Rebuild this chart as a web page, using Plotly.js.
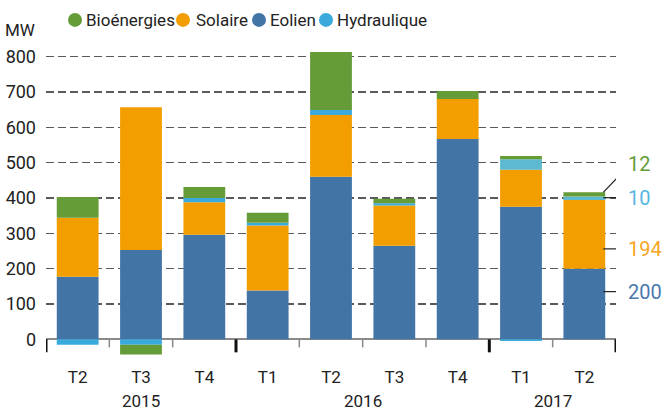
<!DOCTYPE html>
<html>
<head>
<meta charset="utf-8">
<script src="https://cdn.plot.ly/plotly-3.0.1.min.js"></script>
<style>html,body{margin:0;padding:0;background:#fff;}#chart{width:665px;height:412px;}</style>
</head>
<body>
<div id="chart"></div>
<script>
// ---- data ----
const quarters = ['T2','T3','T4','T1','T2','T3','T4','T1','T2'];
const years = ['2015','2015','2015','2016','2016','2016','2016','2017','2017'];
const eolien = [177, 253, 296, 138, 460, 265, 567, 375, 200];
const solaire = [167, 404, 92, 184, 175, 114, 113, 105, 194];
const hydraulique = [0, 0, 12, 8, 14, 6, 0, 30, 10];
const hydrauliqueNeg = [-15, -15, 0, 0, 0, 0, 0, -5, 0];
const bioenergies = [59, -28, 31, 28, 164, 13, 23, 9, 12];
const yTicks = [0, 100, 200, 300, 400, 500, 600, 700, 800];
const seriesNames = ['Bioénergies', 'Solaire', 'Eolien', 'Hydraulique'];

// ---- style ----
const FONT = 'Roboto, sans-serif';
const C = {bio: '#669c38', sol: '#f39e00', eol: '#4274a6', hyd: '#3aa9dc', hyd17: '#5cb9cf', text: '#222'};
const n = quarters.length;
const idx = quarters.map((_, i) => i);
const BARW = 0.66;
const last = n - 1;
const hydColors = years.map(y => y === '2017' ? C.hyd17 : C.hyd);

function bar(name, y, color) {
  return {type: 'bar', x: idx, y: y, name: name, width: BARW, showlegend: false,
          marker: {color: color, line: {width: 0}}, hoverinfo: 'skip'};
}
const data = [
  bar('Eolien', eolien, C.eol),
  bar('Solaire', solaire, C.sol),
  bar('Hydraulique', hydraulique, hydColors),
  bar('Hydraulique', hydrauliqueNeg, C.hyd),
  bar('Bioénergies', bioenergies, C.bio)
];

const shapes = [];
const annotations = [];
// axis ticks at category boundaries (longer at year changes)
for (let i = 0; i <= n; i++) {
  const major = (i === 0 || i === n || years[i] !== years[i - 1]);
  shapes.push({type: 'line', xref: 'x', yref: 'y', ysizemode: 'pixel', yanchor: 0,
    x0: i - 0.5, x1: i - 0.5, y0: 0, y1: major ? -13 : -8,
    line: {color: major ? '#111' : '#888', width: major ? 3 : 1.5}});
}
// year labels centered under their groups
const yearList = [...new Set(years)];
yearList.forEach(y => {
  const ids = idx.filter(i => years[i] === y);
  const mid = (ids[0] + ids[ids.length - 1]) / 2;
  annotations.push({xref: 'x', yref: 'paper', x: mid, y: -0.139, text: y, showarrow: false,
    xanchor: 'center', yanchor: 'middle', font: {family: FONT, size: 17, color: C.text}});
});
// MW unit
annotations.push({xref: 'paper', yref: 'paper', x: -0.076, y: 1.028, text: 'MW', showarrow: false,
  xanchor: 'left', yanchor: 'middle', font: {family: FONT, size: 17, color: C.text}});

// custom legend (circles + text)
const legendColors = [C.bio, C.sol, C.eol, C.hyd];
const legendCirclePx = [75, 183, 259, 326];
const legendTextPx = [86, 196, 270, 337];
const px2paper = px => (px - 46) / 570;
seriesNames.forEach((nm, k) => {
  shapes.push({type: 'circle', xref: 'paper', yref: 'paper', xsizemode: 'pixel', ysizemode: 'pixel',
    xanchor: px2paper(legendCirclePx[k]), yanchor: 1.06, x0: -7, x1: 7, y0: -7, y1: 7,
    fillcolor: legendColors[k], line: {width: 0}});
  annotations.push({xref: 'paper', yref: 'paper', x: px2paper(legendTextPx[k]), y: 1.06, text: nm,
    showarrow: false, xanchor: 'left', yanchor: 'middle', xshift: -2,
    font: {family: FONT, size: 17, color: C.text}});
});

// end-of-series value labels for the last bar
const barRight = last + BARW / 2;
const lastLabels = [
  {v: bioenergies[last], color: C.bio, y: 497, lineFrom: eolien[last] + solaire[last] + hydraulique[last] + bioenergies[last], diag: true},
  {v: hydraulique[last], color: '#56b6e0', y: 401},
  {v: solaire[last], color: '#f5a623', y: 256},
  {v: eolien[last], color: '#4a78ad', y: 135}
];
lastLabels.forEach(L => {
  if (L.diag) {
    shapes.push({type: 'line', xref: 'x', yref: 'y', xsizemode: 'pixel', ysizemode: 'pixel',
      xanchor: barRight, yanchor: L.lineFrom, x0: -2, x1: 23, y0: 0, y1: 26, line: {color: '#222', width: 1.2}});
  } else {
    shapes.push({type: 'line', xref: 'x', yref: 'y', xsizemode: 'pixel', x0: -2, x1: 21,
      y0: L.y, y1: L.y, xanchor: barRight, line: {color: '#222', width: 1.2}});
  }
  annotations.push({xref: 'x', yref: 'y', x: barRight, y: L.y, xshift: 21, text: String(L.v),
    showarrow: false, xanchor: 'left', yanchor: 'middle', font: {family: FONT, size: 20, color: L.color}});
});

const layout = {
  width: 665, height: 412,
  margin: {l: 46, r: 49, t: 39, b: 55, pad: 0},
  paper_bgcolor: '#fff', plot_bgcolor: '#fff',
  barmode: 'relative', showlegend: false,
  font: {family: FONT, color: C.text},
  xaxis: {range: [-0.5, n - 0.5], tickmode: 'array', tickvals: idx, ticktext: quarters,
    ticks: '', showgrid: false, zeroline: false, showline: false, ticklabelstandoff: 8,
    tickfont: {family: FONT, size: 17, color: C.text}, fixedrange: true},
  yaxis: {range: [-50, 850], tickmode: 'array', tickvals: yTicks, ticks: '',
    showgrid: true, gridcolor: '#5a5a5a', gridwidth: 1.4, griddash: '8px,4px',
    zeroline: true, zerolinecolor: '#8a8a8a', zerolinewidth: 2, showline: false,
    ticklabelstandoff: 9, tickfont: {family: FONT, size: 18, color: C.text}, fixedrange: true},
  shapes: shapes,
  annotations: annotations
};
Plotly.newPlot('chart', data, layout, {staticPlot: true, displayModeBar: false});
</script>
</body>
</html>
